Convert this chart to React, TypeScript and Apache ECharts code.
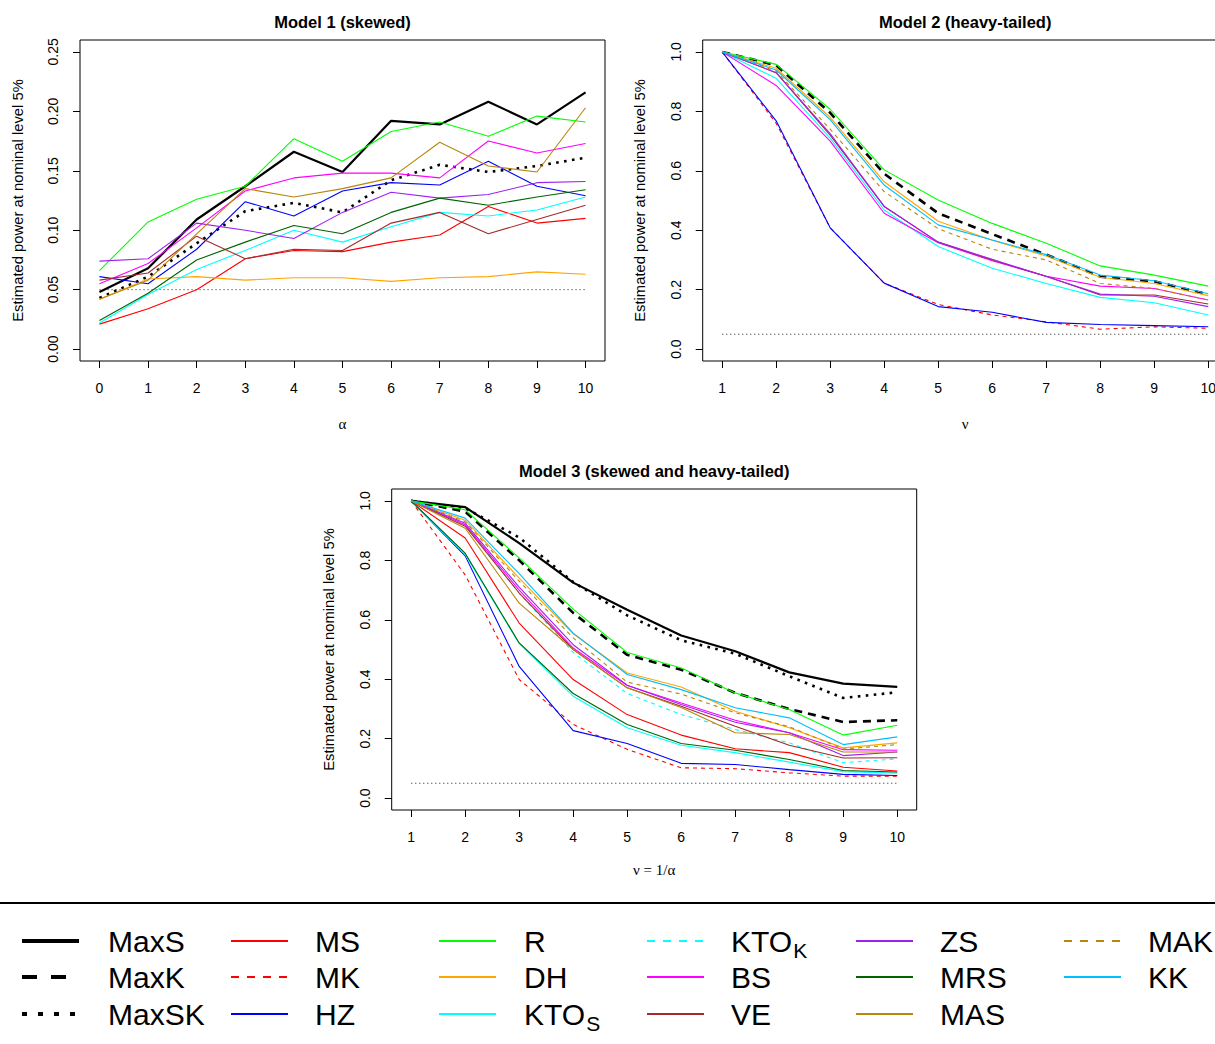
import React, { useEffect, useRef } from 'react';
import * as echarts from 'echarts';

const FONT = '"Liberation Sans", Arial, Helvetica, sans-serif';
const SERIF = '"Liberation Serif", "DejaVu Serif", serif';

// x values
const alphaX = [0, 1, 2, 3, 4, 5, 6, 7, 8, 9, 10];
const nuX = [1, 2, 3, 4, 5, 6, 7, 8, 9, 10];
const nominal = 0.05;

// tick values
const m1YTicks = [0, 0.05, 0.1, 0.15, 0.2, 0.25];
const m23YTicks = [0, 0.2, 0.4, 0.6, 0.8, 1.0];

// Model 1 (skewed), x = alpha
const m1MaxS = [0.048, 0.068, 0.109, 0.137, 0.166, 0.149, 0.192, 0.189, 0.208, 0.189, 0.216];
const m1MaxSK = [0.043, 0.061, 0.089, 0.116, 0.123, 0.115, 0.142, 0.155, 0.149, 0.154, 0.161];
const m1MS = [0.021, 0.034, 0.05, 0.076, 0.083, 0.082, 0.09, 0.096, 0.12, 0.106, 0.11];
const m1HZ = [0.061, 0.055, 0.084, 0.124, 0.112, 0.133, 0.14, 0.138, 0.158, 0.137, 0.129];
const m1R = [0.066, 0.107, 0.126, 0.137, 0.177, 0.158, 0.183, 0.191, 0.179, 0.196, 0.191];
const m1DH = [0.042, 0.059, 0.061, 0.058, 0.06, 0.06, 0.057, 0.06, 0.061, 0.065, 0.063];
const m1KTOS = [0.022, 0.046, 0.067, 0.083, 0.1, 0.09, 0.103, 0.115, 0.112, 0.117, 0.128];
const m1BS = [0.055, 0.072, 0.102, 0.133, 0.144, 0.148, 0.148, 0.144, 0.175, 0.165, 0.173];
const m1VE = [0.058, 0.064, 0.095, 0.076, 0.084, 0.083, 0.106, 0.115, 0.097, 0.109, 0.121];
const m1ZS = [0.074, 0.076, 0.106, 0.1, 0.093, 0.115, 0.132, 0.127, 0.13, 0.14, 0.141];
const m1MRS = [0.024, 0.047, 0.075, 0.09, 0.104, 0.097, 0.115, 0.127, 0.121, 0.128, 0.134];
const m1MAS = [0.042, 0.058, 0.097, 0.135, 0.128, 0.135, 0.144, 0.174, 0.154, 0.149, 0.203];

// Model 2 (heavy-tailed), x = nu
const m2MaxK = [1.0, 0.955, 0.795, 0.59, 0.457, 0.387, 0.318, 0.244, 0.228, 0.184];
const m2MK = [1.0, 0.76, 0.408, 0.222, 0.15, 0.115, 0.092, 0.067, 0.075, 0.07];
const m2HZ = [1.0, 0.768, 0.408, 0.222, 0.143, 0.124, 0.09, 0.083, 0.079, 0.075];
const m2R = [1.0, 0.958, 0.807, 0.603, 0.502, 0.423, 0.356, 0.28, 0.249, 0.212];
const m2DH = [1.0, 0.945, 0.78, 0.563, 0.43, 0.366, 0.313, 0.242, 0.221, 0.18];
const m2KTO = [1.0, 0.911, 0.71, 0.468, 0.345, 0.272, 0.221, 0.174, 0.156, 0.115];
const m2BS = [1.0, 0.887, 0.7, 0.457, 0.358, 0.297, 0.245, 0.212, 0.204, 0.165];
const m2VE = [1.0, 0.93, 0.72, 0.48, 0.36, 0.3, 0.245, 0.182, 0.182, 0.152];
const m2ZS = [1.0, 0.93, 0.725, 0.48, 0.36, 0.302, 0.244, 0.185, 0.178, 0.143];
const m2MAK = [1.0, 0.935, 0.74, 0.53, 0.405, 0.336, 0.3, 0.221, 0.204, 0.165];
const m2KK = [1.0, 0.939, 0.772, 0.552, 0.418, 0.367, 0.318, 0.249, 0.23, 0.186];

// Model 3 (skewed and heavy-tailed), x = nu = 1/alpha
const m3MaxS = [1.0, 0.979, 0.858, 0.725, 0.634, 0.547, 0.494, 0.423, 0.385, 0.374];
const m3MaxK = [1.0, 0.964, 0.8, 0.623, 0.482, 0.432, 0.354, 0.3, 0.256, 0.262];
const m3MaxSK = [1.0, 0.976, 0.877, 0.727, 0.615, 0.531, 0.486, 0.41, 0.337, 0.356];
const m3MS = [1.0, 0.875, 0.589, 0.399, 0.281, 0.212, 0.166, 0.153, 0.104, 0.091];
const m3MK = [1.0, 0.751, 0.399, 0.248, 0.164, 0.102, 0.099, 0.085, 0.074, 0.074];
const m3HZ = [1.0, 0.815, 0.443, 0.227, 0.184, 0.117, 0.113, 0.096, 0.08, 0.076];
const m3R = [1.0, 0.97, 0.808, 0.636, 0.49, 0.438, 0.354, 0.298, 0.212, 0.245];
const m3DH = [1.0, 0.935, 0.74, 0.553, 0.421, 0.374, 0.292, 0.237, 0.169, 0.186];
const m3KTOS = [1.0, 0.82, 0.52, 0.343, 0.237, 0.178, 0.153, 0.121, 0.089, 0.084];
const m3KTOK = [1.0, 0.92, 0.69, 0.49, 0.352, 0.281, 0.231, 0.186, 0.119, 0.132];
const m3BS = [1.0, 0.92, 0.7, 0.505, 0.379, 0.32, 0.262, 0.22, 0.163, 0.161];
const m3VE = [1.0, 0.915, 0.69, 0.5, 0.371, 0.309, 0.242, 0.178, 0.135, 0.136];
const m3ZS = [1.0, 0.925, 0.71, 0.516, 0.38, 0.315, 0.255, 0.22, 0.143, 0.155];
const m3MRS = [1.0, 0.824, 0.522, 0.352, 0.248, 0.184, 0.161, 0.13, 0.093, 0.088];
const m3MAS = [1.0, 0.908, 0.656, 0.5, 0.371, 0.305, 0.22, 0.214, 0.155, 0.155];
const m3MAK = [1.0, 0.93, 0.73, 0.539, 0.39, 0.35, 0.287, 0.24, 0.165, 0.18];
const m3KK = [1.0, 0.942, 0.755, 0.555, 0.416, 0.365, 0.304, 0.27, 0.18, 0.206];

type Sty = { color: string; w: number; dash?: number[]; lw: number; ldash?: number[] };
const STY: Record<string, Sty> = {
  MaxS: { color: '#000000', w: 2.2, lw: 4 },
  MaxK: { color: '#000000', w: 2.6, dash: [8, 6], lw: 4, ldash: [15, 14] },
  MaxSK: { color: '#000000', w: 2.6, dash: [2.6, 5.4], lw: 4, ldash: [5, 11] },
  MS: { color: '#FF0000', w: 1.1, lw: 2.2 },
  MK: { color: '#FF0000', w: 1.1, dash: [4, 4], lw: 2.2, ldash: [8, 8] },
  HZ: { color: '#0000FF', w: 1.1, lw: 2.2 },
  R: { color: '#00FF00', w: 1.1, lw: 2.2 },
  DH: { color: '#FFA500', w: 1.1, lw: 2.2 },
  KTO_S: { color: '#00FFFF', w: 1.1, lw: 2.2 },
  KTO_K: { color: '#00FFFF', w: 1.1, dash: [4, 4], lw: 2.2, ldash: [8, 8] },
  BS: { color: '#FF00FF', w: 1.1, lw: 2.2 },
  VE: { color: '#A52A2A', w: 1.1, lw: 2.2 },
  ZS: { color: '#A020F0', w: 1.1, lw: 2.2 },
  MRS: { color: '#006400', w: 1.1, lw: 2.2 },
  MAS: { color: '#B8860B', w: 1.1, lw: 2.2 },
  MAK: { color: '#B8860B', w: 1.1, dash: [4, 4], lw: 2.2, ldash: [8, 8] },
  KK: { color: '#00BFFF', w: 1.1, lw: 2.2 },
};

const model1: [string, number[]][] = [
  ['MaxS', m1MaxS], ['MaxSK', m1MaxSK], ['MS', m1MS], ['HZ', m1HZ], ['R', m1R], ['DH', m1DH],
  ['KTO_S', m1KTOS], ['BS', m1BS], ['VE', m1VE], ['ZS', m1ZS], ['MRS', m1MRS], ['MAS', m1MAS],
];
const model2: [string, number[]][] = [
  ['MaxK', m2MaxK], ['MK', m2MK], ['HZ', m2HZ], ['R', m2R], ['DH', m2DH], ['KTO_S', m2KTO],
  ['BS', m2BS], ['VE', m2VE], ['ZS', m2ZS], ['MAK', m2MAK], ['KK', m2KK],
];
const model3: [string, number[]][] = [
  ['MaxS', m3MaxS], ['MaxK', m3MaxK], ['MaxSK', m3MaxSK], ['MS', m3MS], ['MK', m3MK], ['HZ', m3HZ],
  ['R', m3R], ['DH', m3DH], ['KTO_S', m3KTOS], ['KTO_K', m3KTOK], ['BS', m3BS], ['VE', m3VE],
  ['ZS', m3ZS], ['MRS', m3MRS], ['MAS', m3MAS], ['MAK', m3MAK], ['KK', m3KK],
];

const legendColumns = [
  ['MaxS', 'MaxK', 'MaxSK'],
  ['MS', 'MK', 'HZ'],
  ['R', 'DH', 'KTO_S'],
  ['KTO_K', 'BS', 'VE'],
  ['ZS', 'MRS', 'MAS'],
  ['MAK', 'KK'],
];

function measure(s: string, font: string): number {
  const c = document.createElement('canvas').getContext('2d');
  if (!c) return s.length * 18;
  c.font = font;
  return c.measureText(s).width;
}

const CW = 1245;
const CH = 1044;

export default function App() {
  const ref = useRef<HTMLDivElement>(null);
  useEffect(() => {
    if (!ref.current) return;
    const chart = echarts.init(ref.current, undefined, { renderer: 'svg' });

    const grids = [
      { left: 80, top: 40, width: 525, height: 321 },
      { left: 702.7, top: 40, width: 525, height: 321 },
      { left: 391.7, top: 489, width: 525, height: 321 },
    ];
    const xs = [alphaX, nuX, nuX];
    const xRange = [[-0.4, 10.4], [0.64, 10.36], [0.64, 10.36]];
    const yRange = [[-0.01, 0.26], [-0.04, 1.04], [-0.04, 1.04]];
    const yTicks = [m1YTicks, m23YTicks, m23YTicks];
    const xNames = ['α', 'ν', 'ν = 1/α'];
    const titles = ['Model 1 (skewed)', 'Model 2 (heavy-tailed)', 'Model 3 (skewed and heavy-tailed)'];
    const models = [model1, model2, model3];

    const series: any[] = [];
    models.forEach((m, g) => {
      const xv = xs[g];
      series.push({
        type: 'line', xAxisIndex: g, yAxisIndex: g, symbol: 'none', silent: true,
        data: [[xv[0], nominal], [xv[xv.length - 1], nominal]],
        lineStyle: { color: '#444', width: 1, type: [1.2, 2.8] },
      });
      m.forEach(([name, vals]) => {
        const s = STY[name];
        series.push({
          name, type: 'line', xAxisIndex: g, yAxisIndex: g, symbol: 'none', silent: true,
          data: xv.map((x, i) => [x, vals[i]]),
          lineStyle: { color: s.color, width: s.w, type: s.dash ? s.dash : 'solid' },
        });
      });
    });

    const graphic: any[] = [];
    titles.forEach((t, g) => {
      const gr = grids[g];
      graphic.push({
        type: 'text', x: gr.left + gr.width / 2, y: g < 2 ? 22 : 471,
        style: { text: t, fontSize: 16.5, fontWeight: 'bold', fontFamily: FONT, fill: '#000', align: 'center', verticalAlign: 'middle' },
      });
    });

    // legend
    graphic.push({ type: 'line', shape: { x1: 0, y1: 903, x2: CW, y2: 903 }, style: { stroke: '#000', lineWidth: 2 } });
    const lineStart = [22, 231, 439, 647, 856, 1064];
    const textX = [108, 315, 524, 731, 940, 1148];
    const rowY = [941, 977, 1014];
    const LFS = 30;
    legendColumns.forEach((col, c) => {
      col.forEach((name, r) => {
        const s = STY[name];
        const y = rowY[r];
        graphic.push({
          type: 'line', shape: { x1: lineStart[c], y1: y, x2: lineStart[c] + 57, y2: y },
          style: { stroke: s.color, lineWidth: s.lw, lineDash: s.ldash ? s.ldash : null },
        });
        const parts = name.split('_');
        graphic.push({
          type: 'text', x: textX[c], y,
          style: { text: parts[0], fontSize: LFS, fontFamily: FONT, fill: '#000', align: 'left', verticalAlign: 'middle' },
        });
        if (parts[1]) {
          const w = measure(parts[0], `${LFS}px ${FONT}`);
          graphic.push({
            type: 'text', x: textX[c] + w + 1, y: y + 9,
            style: { text: parts[1], fontSize: 21, fontFamily: FONT, fill: '#000', align: 'left', verticalAlign: 'middle' },
          });
        }
      });
    });

    const option: any = {
      animation: false,
      backgroundColor: '#fff',
      textStyle: { fontFamily: FONT },
      grid: grids.map((g) => ({ ...g, show: true, borderColor: '#000', borderWidth: 1, backgroundColor: 'transparent', containLabel: false })),
      xAxis: grids.map((_, g) => ({
        gridIndex: g, type: 'value', min: xRange[g][0], max: xRange[g][1], position: 'bottom',
        axisLine: { show: false, onZero: false }, splitLine: { show: false },
        axisTick: { show: true, length: 7, customValues: xs[g], lineStyle: { color: '#000', width: 1 } },
        axisLabel: { customValues: xs[g], margin: 20, fontSize: 14, color: '#000', fontFamily: FONT },
        name: xNames[g], nameLocation: 'middle', nameGap: g === 2 ? 52 : 55,
        nameTextStyle: { fontSize: 15, color: '#000', fontFamily: SERIF },
      })),
      yAxis: grids.map((_, g) => ({
        gridIndex: g, type: 'value', min: yRange[g][0], max: yRange[g][1], position: 'left',
        axisLine: { show: false, onZero: false }, splitLine: { show: false },
        axisTick: { show: true, length: 7, customValues: yTicks[g], lineStyle: { color: '#000', width: 1 } },
        axisLabel: {
          customValues: yTicks[g], rotate: 90, margin: 20, fontSize: 14, color: '#000', fontFamily: FONT,
          formatter: (v: number) => (g === 0 ? v.toFixed(2) : v.toFixed(1)),
        },
        name: 'Estimated power at nominal level 5%', nameLocation: 'middle', nameGap: 55, nameRotate: 90,
        nameTextStyle: { fontSize: 14.8, color: '#000', fontFamily: FONT },
      })),
      series,
      graphic,
    };
    chart.setOption(option);
    return () => chart.dispose();
  }, []);
  return (
    <div style={{ position: 'absolute', left: 0, top: 0, width: 1215, height: CH, overflow: 'hidden', background: '#fff' }}>
      <div ref={ref} style={{ position: 'absolute', left: 0, top: 0, width: CW, height: CH }} />
    </div>
  );
}
